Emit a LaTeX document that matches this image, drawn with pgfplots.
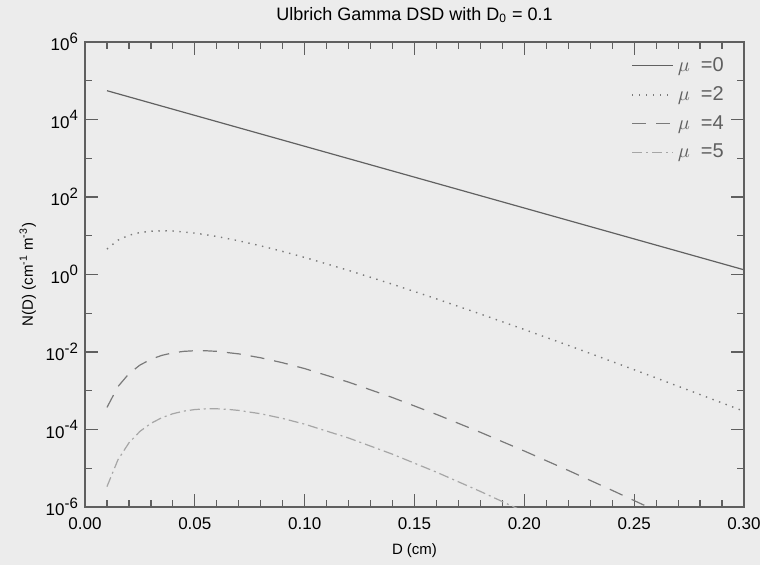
\documentclass[border=0pt]{standalone}
\usepackage{pgfplots}
\pgfplotsset{compat=1.18}
\usepackage{fontspec}
\setmainfont{Liberation Sans}
\usetikzlibrary{backgrounds}
\definecolor{bgcol}{RGB}{236,236,236}
\definecolor{axcol}{RGB}{95,95,95}
\newcommand{\ex}[1]{10\raisebox{0.45em}{\fontsize{7.5}{8}\selectfont #1}}

\begin{document}
\begin{tikzpicture}[font=\fontsize{8.5}{10}\selectfont]
\begin{axis}[
scale only axis,
width=329.5pt,
height=232.5pt,
xmin=0, xmax=0.30,
ymode=log,
ymin=1e-6, ymax=1e6,
xtick={0,0.05,...,0.30},
minor x tick num=4,
ytick={1e-6,1e-4,1e-2,1,1e2,1e4,1e6},
yticklabels={\ex{-6},\ex{-4},\ex{-2},\ex{0},\ex{2},\ex{4},\ex{6}},
minor ytick={1e-5,1e-3,1e-1,1e1,1e3,1e5},
xticklabel style={yshift=-2pt,/pgf/number format/.cd,fixed,fixed zerofill,precision=2,assume math mode=true},
tick label style={font=\fontsize{8.5}{10}\selectfont, text=black},
major tick length=6.5pt,
minor tick length=3.5pt,
tick style={axcol, line width=0.6pt},
axis line style={axcol, line width=0.6pt},
xlabel={D (cm)},
ylabel={N(D) (cm\textsuperscript{-1} m\textsuperscript{-3})},
xlabel style={at={(axis description cs:0.5,0)}, anchor=north, yshift=-15pt, font=\fontsize{7.5}{9}\selectfont},
ylabel style={at={(axis description cs:0,0.5)}, anchor=south, yshift=21pt, font=\fontsize{7.5}{9}\selectfont},
title={Ulbrich Gamma DSD with D\textsubscript{0} = 0.1},
title style={font=\fontsize{9}{10}\selectfont, yshift=0pt},
legend style={draw=none, fill=none, at={(rel axis cs:0.985,0.985)}, anchor=north east, font=\fontsize{10}{11}\selectfont, text=axcol, row sep=2pt},
legend cell align=left,
legend image code/.code={\draw[#1] (0cm,0cm) -- (0.72cm,0cm);},
]
\addplot[color=black!62, line width=0.6pt] coordinates {
(0.01,55410) (0.10,2038) (0.20,51.93) (0.30,1.3228)
};
\addplot[color=black!52, line width=0.7pt, dash pattern=on 0.7pt off 2.8pt] coordinates {
(0.01,4.537) (0.015,7.689) (0.02,10.296) (0.025,12.114) (0.03,13.141)
(0.035,13.471) (0.04,13.252) (0.05,11.744) (0.06,9.593) (0.07,7.405)
(0.08,5.487) (0.09,3.938) (0.10,2.7586) (0.12,1.2777) (0.14,0.55967)
(0.16,0.23516) (0.18,0.09577) (0.20,0.038049) (0.22,0.014813)
(0.24,0.005671) (0.26,0.002141) (0.28,7.990e-4) (0.30,2.951e-4)
};
\addplot[color=black!52, line width=0.6pt, dash pattern=on 7pt off 5pt] coordinates {
(0.01,3.715e-4) (0.015,1.2817e-3) (0.02,2.7606e-3) (0.025,4.5945e-3)
(0.03,6.4928e-3) (0.035,8.1959e-3) (0.04,9.527e-3) (0.045,1.0399e-2)
(0.05,1.0800e-2) (0.055,1.0776e-2) (0.06,1.0401e-2) (0.07,8.948e-3)
(0.08,7.089e-3) (0.09,5.274e-3) (0.10,3.7337e-3) (0.12,1.6696e-3)
(0.14,6.673e-4) (0.16,2.4542e-4) (0.18,8.479e-5) (0.20,2.7875e-5)
(0.22,8.802e-6) (0.24,2.6887e-6) (0.26,7.985e-7) (0.28,2.316e-7)
};
\addplot[color=black!35, line width=0.6pt, dash pattern=on 5pt off 2pt on 1pt off 2pt] coordinates {
(0.01,3.3624e-6) (0.015,1.6551e-5) (0.02,4.5194e-5) (0.025,8.943e-5)
(0.03,1.4425e-4) (0.035,2.0205e-4) (0.04,2.5547e-4) (0.045,2.9838e-4)
(0.05,3.2757e-4) (0.055,3.4196e-4) (0.06,3.4249e-4) (0.065,3.3127e-4)
(0.07,3.1101e-4) (0.08,2.5489e-4) (0.09,1.9292e-4) (0.10,1.3733e-4)
(0.12,6.035e-5) (0.14,2.3031e-5) (0.16,7.929e-6) (0.18,2.5224e-6)
(0.20,7.543e-7) (0.22,2.145e-7)
};
\legend{$\mu$\ \ =0,$\mu$\ \ =2,$\mu$\ \ =4,$\mu$\ \ =5}
\end{axis}
\begin{scope}[on background layer]
\fill[bgcol] ([xshift=-42.5pt,yshift=-29pt]current axis.south west) rectangle ([xshift=8pt,yshift=21pt]current axis.north east);
\end{scope}
\pgfresetboundingbox
\path ([xshift=-42.5pt,yshift=-29pt]current axis.south west) rectangle ([xshift=8pt,yshift=21pt]current axis.north east);
\end{tikzpicture}
\end{document}
